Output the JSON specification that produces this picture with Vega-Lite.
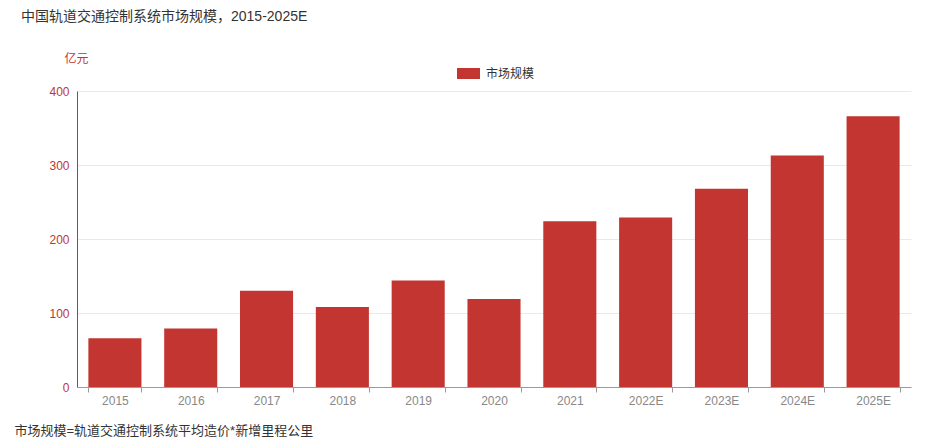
{
  "$schema": "https://vega.github.io/schema/vega-lite/v6.json",
  "width": 834,
  "height": 296,
  "autosize": {"type": "none"},
  "padding": {"left": 77, "top": 91, "right": 23, "bottom": 59},
  "background": "white",
  "title": {
    "text": "中国轨道交通控制系统市场规模，2015-2025E",
    "anchor": "start",
    "frame": "group",
    "dx": -56,
    "dy": -24,
    "fontSize": 14,
    "fontWeight": "normal",
    "color": "#333333",
    "font": "Liberation Sans, Noto Sans CJK SC"
  },
  "config": {
    "view": {"stroke": null},
    "font": "Liberation Sans, Noto Sans CJK SC"
  },
  "data": {
    "values": [
      {"year": "2015", "value": 66, "series": "市场规模"},
      {"year": "2016", "value": 79, "series": "市场规模"},
      {"year": "2017", "value": 130, "series": "市场规模"},
      {"year": "2018", "value": 108, "series": "市场规模"},
      {"year": "2019", "value": 144, "series": "市场规模"},
      {"year": "2020", "value": 119, "series": "市场规模"},
      {"year": "2021", "value": 224, "series": "市场规模"},
      {"year": "2022E", "value": 229, "series": "市场规模"},
      {"year": "2023E", "value": 268, "series": "市场规模"},
      {"year": "2024E", "value": 313, "series": "市场规模"},
      {"year": "2025E", "value": 366, "series": "市场规模"}
    ]
  },
  "mark": {"type": "bar"},
  "encoding": {
    "x": {
      "field": "year",
      "type": "ordinal",
      "sort": null,
      "scale": {"paddingInner": 0.3, "paddingOuter": 0.15},
      "axis": {
        "title": "市场规模=轨道交通控制系统平均造价*新增里程公里",
        "titleAnchor": "start",
        "titleAlign": "left",
        "titleBaseline": "middle",
        "titleX": -63,
        "titleY": 43,
        "titleFontSize": 13,
        "titleFontWeight": "normal",
        "titleColor": "#333333",
        "labelAngle": 0,
        "labelColor": "#888888",
        "labelFontSize": 12,
        "labelPadding": 3,
        "domainColor": "#9a9a9a",
        "tickColor": "#9a9a9a",
        "tickBand": "extent",
        "tickSize": 5
      }
    },
    "y": {
      "field": "value",
      "type": "quantitative",
      "scale": {"domain": [0, 400]},
      "axis": {
        "values": [0, 100, 200, 300, 400],
        "title": "亿元",
        "titleAngle": 0,
        "titleAlign": "center",
        "titleBaseline": "middle",
        "titleX": -1,
        "titleY": -33,
        "titleFontSize": 12,
        "titleFontWeight": "normal",
        "titleColor": "#c23531",
        "labelColor": "#c23531",
        "labelFontSize": 12,
        "labelPadding": 8,
        "ticks": false,
        "domainColor": "#c23531",
        "gridColor": "#e6e9f0"
      }
    },
    "color": {
      "field": "series",
      "type": "nominal",
      "scale": {"range": ["#c23531"]},
      "legend": {
        "title": null,
        "orient": "none",
        "legendX": 380,
        "legendY": -29,
        "padding": 0,
        "symbolType": "M-1,-0.48H1V0.48H-1Z",
        "symbolSize": 529,
        "symbolOpacity": 1,
        "symbolStrokeWidth": 0,
        "labelFontSize": 12,
        "labelColor": "#333333",
        "labelOffset": 6
      }
    }
  }
}
